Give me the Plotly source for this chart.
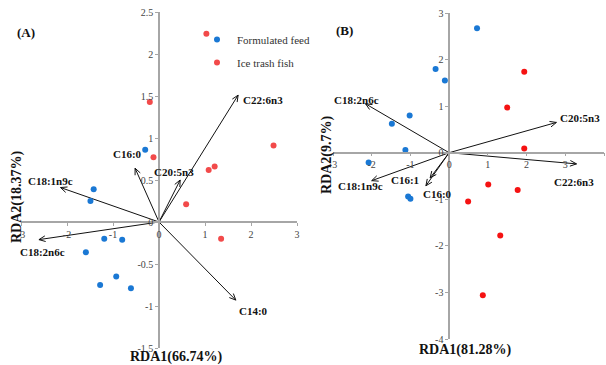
import math
import plotly.graph_objects as go

W, H = 606, 365

# ---- Panel A: sample scores and fatty-acid loadings ----
a_feed_x = [-0.30, -1.42, -1.49, -1.19, -0.80, -1.59, -0.93, -1.28, -0.61]
a_feed_y = [0.86, 0.39, 0.25, -0.20, -0.21, -0.36, -0.65, -0.75, -0.79]
a_fish_x = [1.03, -0.20, -0.12, 1.08, 1.21, 2.49, 0.59, 1.35]
a_fish_y = [2.24, 1.43, 0.77, 0.62, 0.66, 0.91, 0.21, -0.20]
a_vars = ["C22:6n3", "C14:0", "C18:1n9c", "C18:2n6c", "C16:0", "C20:5n3"]
a_load_x = [1.72, 1.67, -2.14, -2.61, -0.52, 0.46]
a_load_y = [1.51, -0.93, 0.41, -0.21, 0.64, 0.50]
a_xticks = [-3, -2, -1, 0, 1, 2, 3]
a_xticktext = ["-3", "-2", "-1", "0", "1", "2", "3"]
a_yticks = [-1.5, -1, -0.5, 0, 0.5, 1, 1.5, 2, 2.5]
a_yticktext = ["-1.5", "-1", "-0.5", "0", "0.5", "1", "1.5", "2", "2.5"]

# ---- Panel B ----
b_feed_x = [0.72, -0.35, -0.11, -1.02, -1.48, -1.13, -2.08, -1.06, -1.00]
b_feed_y = [2.67, 1.80, 1.55, 0.80, 0.62, 0.06, -0.21, -0.94, -0.99]
b_fish_x = [1.94, 1.50, 1.94, 1.01, 1.77, 0.49, 1.32, 0.87]
b_fish_y = [1.74, 0.97, 0.09, -0.68, -0.80, -1.05, -1.78, -3.06]
b_vars = ["C20:5n3", "C22:6n3", "C18:2n6c", "C18:1n9c", "C16:1", "C16:0"]
b_load_x = [2.77, 3.29, -2.16, -2.00, -0.49, -0.60]
b_load_y = [0.65, -0.24, 1.05, -0.60, -0.54, -0.71]
b_xticks = [-3, -2, -1, 0, 1, 2, 3, 4]
b_xticktext = ["-3", "-2", "-1", "0", "1", "2", "3", "4"]
b_yticks = [-4, -3, -2, -1, 0, 1, 2, 3]
b_yticktext = ["-4", "-3", "-2", "-1", "0", "1", "2", "3"]

# Label placement for each loading arrow: (xanchor, xshift px, yshift px)
a_label_pos = {
    "C22:6n3": ("left", 3, -5),
    "C14:0": ("left", 1, -11),
    "C18:1n9c": ("center", -10, 7),
    "C18:2n6c": ("center", 4, -12),
    "C16:0": ("center", -8, 14),
    "C20:5n3": ("center", -6, 8),
}
b_label_pos = {
    "C20:5n3": ("left", 2, 4),
    "C22:6n3": ("center", -3, -18),
    "C18:2n6c": ("center", -9, 4),
    "C18:1n9c": ("center", -11, -5),
    "C16:1": ("center", -25, -2),
    "C16:0": ("center", 12, -8),
}

# Plot boxes in pixels: left, right, top, bottom
panels = {
    "A": dict(box=(21, 297, 12, 348), xr=(-3, 3), yr=(-1.5, 2.5), xa="x", ya="y"),
    "B": dict(box=(333, 604, 13, 339), xr=(-3, 4), yr=(-4, 3), xa="x2", ya="y2"),
}

FEED_COLOR = "#1a78d4"
FISH_A = "#f24a4a"
FISH_B = "#f51212"
AXIS_COLOR = "#a6a6a6"
SERIF = "Liberation Serif"

fig = go.Figure()


def arrows(p, lx, ly):
    """Shaft plus open V head for each loading vector, built in pixel space."""
    left, right, top, bottom = p["box"]
    sx = (right - left) / (p["xr"][1] - p["xr"][0])
    sy = (bottom - top) / (p["yr"][1] - p["yr"][0])
    xs, ys = [], []
    head, ang = 7.0, math.radians(24)
    for x, y in zip(lx, ly):
        xs += [0, x, None]
        ys += [0, y, None]
        px, py = x * sx, y * sy
        n = math.hypot(px, py)
        ux, uy = px / n, py / n
        for s in (ang, -ang):
            rx = ux * math.cos(s) - uy * math.sin(s)
            ry = ux * math.sin(s) + uy * math.cos(s)
            xs += [x, x - head * rx / sx, None]
            ys += [y, y - head * ry / sy, None]
    return xs, ys


for key, feed, fish, fish_col, lx, ly, names, lpos in [
    ("A", (a_feed_x, a_feed_y), (a_fish_x, a_fish_y), FISH_A, a_load_x, a_load_y, a_vars, a_label_pos),
    ("B", (b_feed_x, b_feed_y), (b_fish_x, b_fish_y), FISH_B, b_load_x, b_load_y, b_vars, b_label_pos),
]:
    p = panels[key]
    ax_x, ax_y = arrows(p, lx, ly)
    fig.add_trace(go.Scatter(
        x=ax_x, y=ax_y, mode="lines", xaxis=p["xa"], yaxis=p["ya"],
        line=dict(color="#111111", width=1), showlegend=False, hoverinfo="skip",
        cliponaxis=False,
    ))
    fig.add_trace(go.Scatter(
        x=feed[0], y=feed[1], mode="markers", xaxis=p["xa"], yaxis=p["ya"],
        marker=dict(color=FEED_COLOR, size=6), name="Formulated feed",
        showlegend=(key == "A"), legendgroup="feed", cliponaxis=False,
    ))
    fig.add_trace(go.Scatter(
        x=fish[0], y=fish[1], mode="markers", xaxis=p["xa"], yaxis=p["ya"],
        marker=dict(color=fish_col, size=6), name="Ice trash fish",
        showlegend=(key == "A"), legendgroup="fish", cliponaxis=False,
    ))
    for name, x, y in zip(names, lx, ly):
        anchor, dx, dy = lpos[name]
        fig.add_annotation(
            x=x, y=y, xref=p["xa"], yref=p["ya"], text=f"<b>{name}</b>",
            showarrow=False, xanchor=anchor, yanchor="middle", xshift=dx, yshift=dy,
            font=dict(family=SERIF, size=11, color="#111111"),
        )


def axis_layout(p, ticks, ticktext, which):
    left, right, top, bottom = p["box"]
    xr, yr = p["xr"], p["yr"]
    if which == "x":
        dom = [left / W, right / W]
        y0_px = bottom - (0 - yr[0]) / (yr[1] - yr[0]) * (bottom - top)
        pos = (H - y0_px) / H
        rng = list(xr)
    else:
        dom = [(H - bottom) / H, (H - top) / H]
        x0_px = left + (0 - xr[0]) / (xr[1] - xr[0]) * (right - left)
        pos = x0_px / W
        rng = list(yr)
    return dict(
        domain=dom, range=rng, anchor="free", position=pos,
        showline=True, linecolor=AXIS_COLOR, linewidth=1.5,
        ticks="outside", ticklen=3, tickcolor=AXIS_COLOR, tickwidth=1,
        tickvals=ticks, ticktext=ticktext,
        tickfont=dict(family=SERIF, size=10, color="#444444"),
        showgrid=False, zeroline=False, automargin=False, fixedrange=True,
    )


pa, pb = panels["A"], panels["B"]
fig.update_layout(
    width=W, height=H, template="none",
    margin=dict(l=0, r=0, t=0, b=0),
    paper_bgcolor="white", plot_bgcolor="rgba(0,0,0,0)",
    xaxis=axis_layout(pa, a_xticks, a_xticktext, "x"),
    yaxis=axis_layout(pa, a_yticks, a_yticktext, "y"),
    xaxis2=axis_layout(pb, b_xticks, b_xticktext, "x"),
    yaxis2=axis_layout(pb, b_yticks, b_yticktext, "y"),
    legend=dict(
        x=197 / W, y=(H - 25) / H, xanchor="left", yanchor="top",
        font=dict(family=SERIF, size=11, color="#333333"),
        bgcolor="rgba(0,0,0,0)", traceorder="grouped", tracegroupgap=4,
        itemwidth=30,
    ),
)

# Panel tags and axis titles
titles = [
    ("<b>(A)</b>", 26, 33, 0, 13),
    ("<b>(B)</b>", 344, 30, 0, 13),
    ("<b>RDA1(66.74%)</b>", 176, 357, 0, 14),
    ("<b>RDA2(18.37%)</b>", 17, 197, -90, 14),
    ("<b>RDA1(81.28%)</b>", 465, 350, 0, 14),
    ("<b>RDA2(9.7%)</b>", 327, 155, -90, 14),
]
for text, px, py, rot, size in titles:
    fig.add_annotation(
        x=px / W, y=(H - py) / H, xref="paper", yref="paper", text=text,
        showarrow=False, xanchor="center", yanchor="middle", textangle=rot,
        font=dict(family=SERIF, size=size, color="#111111"),
    )

fig.write_html("out.html")
